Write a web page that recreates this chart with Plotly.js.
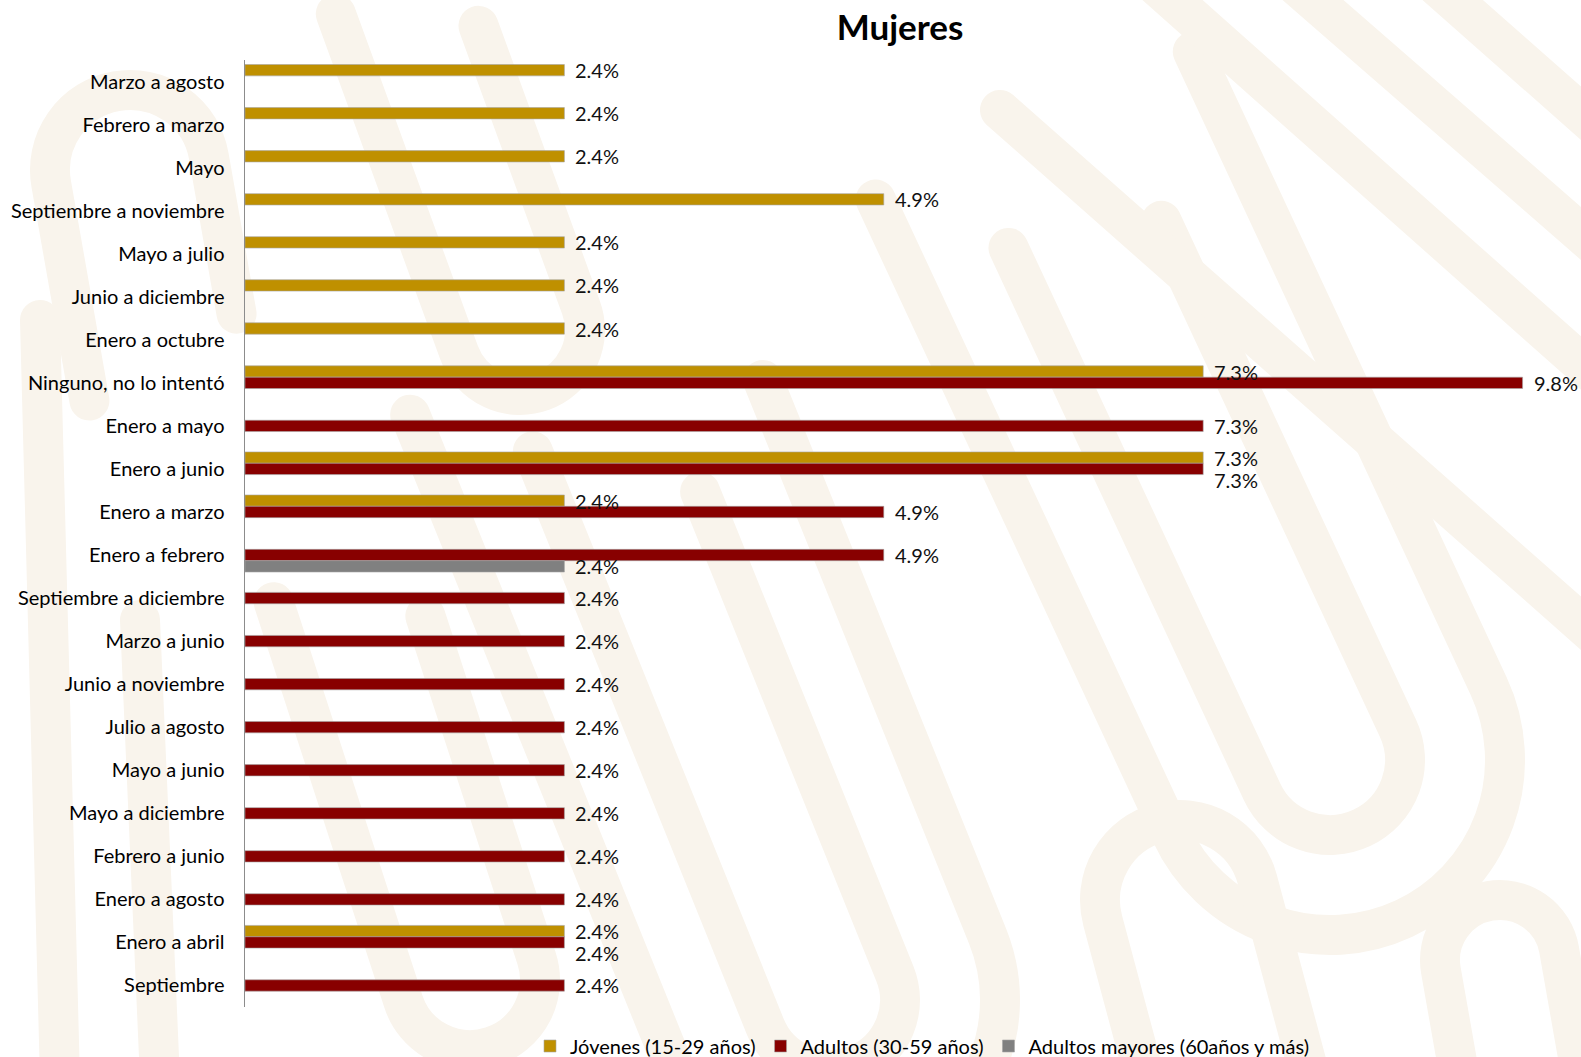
<!DOCTYPE html>
<html>
<head>
<meta charset="utf-8">
<script src="https://cdn.plot.ly/plotly-3.0.1.min.js"></script>
<style>
  html, body { margin: 0; padding: 0; background: #ffffff; }
  #wrap { position: relative; width: 1581px; height: 1057px; overflow: hidden; }
  #bg { position: absolute; left: 0; top: 0; }
  #chart { position: absolute; left: 0; top: 0; width: 1581px; height: 1057px; }
</style>
</head>
<body>
<div id="wrap">
<svg id="bg" width="1581" height="1057" xmlns="http://www.w3.org/2000/svg">
  <g fill="none" stroke="#F9F4EC" stroke-width="40" stroke-linecap="round">
    <!-- decorative watermark -->
    <g transform="translate(830,1000) rotate(-22)">
      <path d="M -70,-620 L -70,0 A 70 70 0 0 0 70,0 L 70,-520"/>
      <path d="M -170,-700 L -170,0 A 170 170 0 0 0 170,0 L 170,-600"/>
    </g>
    <g transform="translate(1330,760) rotate(-25)">
      <path d="M -75,-600 L -75,0 A 75 75 0 0 0 75,0 L 75,-560"/>
      <path d="M -175,-700 L -175,0 A 175 175 0 0 0 175,0 L 175,-700"/>
    </g>
    <g transform="translate(1180,900) rotate(-15)">
      <path d="M -80,300 L -80,0 A 80 80 0 0 1 80,0 L 80,300"/>
    </g>
    <g transform="translate(1500,960) rotate(-10)">
      <path d="M -60,200 L -60,0 A 60 60 0 0 1 60,0 L 60,200"/>
    </g>
    <path d="M 1150,-20 L 1600,380"/>
    <path d="M 1290,-20 L 1600,250"/>
    <path d="M 1430,-20 L 1600,130"/>
    <path d="M 1000,110 L 1600,640"/>
    <g transform="translate(520,330) rotate(-20)">
      <path d="M -65,-360 L -65,0 A 65 65 0 0 0 65,0 L 65,-300"/>
    </g>
    <g transform="translate(470,980) rotate(-18)">
      <path d="M -70,-420 L -70,0 A 70 70 0 0 0 70,0 L 70,-360"/>
    </g>
    <path d="M 40,320 L 60,1080"/>
    <path d="M 140,620 L 160,1080"/>
    <g transform="translate(130,170) rotate(-10)">
      <path d="M -80,220 L -80,0 A 80 80 0 0 1 80,0 L 80,160"/>
    </g>
  </g>
</svg>
<div id="chart"></div>
</div>
<script>
// ---- data ----
const categories = [
  "Marzo a agosto", "Febrero a marzo", "Mayo", "Septiembre a noviembre",
  "Mayo a julio", "Junio a diciembre", "Enero a octubre", "Ninguno, no lo intentó",
  "Enero a mayo", "Enero a junio", "Enero a marzo", "Enero a febrero",
  "Septiembre a diciembre", "Marzo a junio", "Junio a noviembre", "Julio a agosto",
  "Mayo a junio", "Mayo a diciembre", "Febrero a junio", "Enero a agosto",
  "Enero a abril", "Septiembre"
];
const seriesNames = ["Jóvenes (15-29 años)", "Adultos (30-59 años)", "Adultos mayores (60años y más)"];
const jovenes = [2.44, 2.44, 2.44, 4.88, 2.44, 2.44, 2.44, 7.32, null, 7.32, 2.44, null,
                 null, null, null, null, null, null, null, null, 2.44, null];
const adultos = [null, null, null, null, null, null, null, 9.76, 7.32, 7.32, 4.88, 4.88,
                 2.44, 2.44, 2.44, 2.44, 2.44, 2.44, 2.44, 2.44, 2.44, 2.44];
const mayores = [null, null, null, null, null, null, null, null, null, null, null, 2.44,
                 null, null, null, null, null, null, null, null, null, null];
const colors = ["#BF9000", "#880000", "#808080"];

const FONT = "Lato, 'Open Sans', sans-serif";
const allSeries = [jovenes, adultos, mayores];

const traces = allSeries.map((vals, k) => ({
  type: "bar",
  orientation: "h",
  name: seriesNames[k],
  y: categories,
  x: vals,
  marker: { color: colors[k], line: { color: "#a6a6a6", width: 0.6 } },
  hoverinfo: "none"
}));

// data labels as annotations beside each bar; a label that would sit on top of
// the label of the bar above it (same value) is nudged down, as in the original
const slot = 11.3;
const annotations = [];
allSeries.forEach((vals, k) => {
  vals.forEach((v, i) => {
    if (v === null) return;
    let extra = 0;
    if (k > 0 && allSeries[k - 1][i] !== null && allSeries[k - 1][i] === v) extra = 11;
    annotations.push({
      x: v, y: categories[i], xref: "x", yref: "y",
      text: v.toFixed(1) + "%",
      showarrow: false, xanchor: "left", yanchor: "middle",
      xshift: 9, yshift: -(k - 1) * slot - extra,
      font: { family: FONT, size: 20, color: "#111111" }
    });
  });
});

const layout = {
  width: 1581, height: 1057,
  margin: { l: 245, r: 27, t: 60, b: 50 },
  paper_bgcolor: "rgba(0,0,0,0)",
  plot_bgcolor: "rgba(0,0,0,0)",
  barmode: "group",
  bargap: 0.21,
  bargroupgap: 0,
  title: {
    text: "<b>Mujeres</b>",
    x: 900 / 1581, xref: "container", xanchor: "center",
    y: 1 - 28 / 1057, yref: "container", yanchor: "middle",
    font: { family: FONT, size: 35, color: "#000000" }
  },
  xaxis: {
    range: [0, 10], showticklabels: false, showgrid: false,
    zeroline: false, showline: false, ticks: ""
  },
  yaxis: {
    type: "category", categoryorder: "array", categoryarray: categories,
    autorange: "reversed",
    showline: true, linecolor: "#8c8c8c", linewidth: 1.5,
    showgrid: false, zeroline: false, ticks: "",
    ticklabelstandoff: 15,
    tickfont: { family: FONT, size: 20, color: "#000000" }
  },
  legend: {
    orientation: "h",
    xref: "container", yref: "container",
    x: 922 / 1581, xanchor: "center",
    y: 1 - 1046 / 1057, yanchor: "middle",
    font: { family: FONT, size: 20, color: "#000000" },
    itemwidth: 30,
    traceorder: "normal",
    bgcolor: "rgba(0,0,0,0)"
  },
  annotations: annotations,
  showlegend: true
};

Plotly.newPlot("chart", traces, layout, { displayModeBar: false, staticPlot: true });
</script>
</body>
</html>
